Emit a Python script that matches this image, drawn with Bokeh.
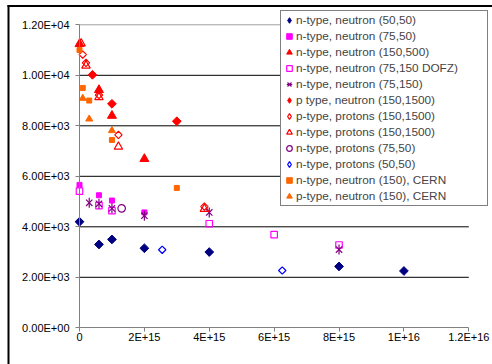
import numpy as np
from bokeh.plotting import figure
from bokeh.models import Range1d, FixedTicker, Legend, LegendItem
from bokeh.embed import file_html
from bokeh.resources import INLINE

# ---- axis ticks -------------------------------------------------------
x_ticks = [0.0, 2e15, 4e15, 6e15, 8e15, 1e16, 1.2e16]
x_tick_labels = ["0", "2E+15", "4E+15", "6E+15", "8E+15", "1E+16", "1.2E+16"]
y_ticks = [0, 2000, 4000, 6000, 8000, 10000, 12000]
y_tick_labels = ["0.00E+00", "2.00E+03", "4.00E+03", "6.00E+03",
                 "8.00E+03", "1.00E+04", "1.20E+04"]

# ---- series (fluence, value) -----------------------------------------
n_neu_50_50_x = [0.0, 6e14, 1e15, 2e15, 4e15, 8e15, 1e16]
n_neu_50_50_y = [4200, 3300, 3500, 3150, 3000, 2430, 2250]

n_neu_75_50_x = [0.0, 6e14, 1e15, 2e15]
n_neu_75_50_y = [5660, 5250, 5040, 4570]

n_neu_150_500_x = [0.0, 6e14, 1e15, 2e15]
n_neu_150_500_y = [11240, 9420, 8400, 6690]

n_neu_75_150_dofz_x = [0.0, 6e14, 1e15, 4e15, 6e15, 8e15]
n_neu_75_150_dofz_y = [5410, 4840, 4640, 4120, 3690, 3280]

n_neu_75_150_x = [3e14, 6e14, 1e15, 2e15, 4e15, 8e15]
n_neu_75_150_y = [4950, 4910, 4730, 4440, 4570, 3100]

p_neu_150_1500_x = [4e14, 1e15, 3e15]
p_neu_150_1500_y = [10020, 8870, 8180]

p_pro_150_1500_x = [1e14, 2e14, 6e14, 1.2e15, 3.85e15]
p_pro_150_1500_y = [10820, 10490, 9220, 7640, 4800]

n_pro_150_1500_x = [5e13, 2e14, 6e14, 1.2e15, 3.85e15]
n_pro_150_1500_y = [11260, 10380, 9130, 7170, 4710]

n_pro_75_50_x = [1.3e15]
n_pro_75_50_y = [4730]

n_pro_50_50_x = [2.55e15, 6.25e15]
n_pro_50_50_y = [3090, 2270]

n_neu_150_cern_x = [0.0, 1e14, 3e14, 1e15, 3e15]
n_neu_150_cern_y = [11000, 9500, 9000, 7440, 5540]

p_neu_150_cern_x = [1e14, 3e14, 1e15]
p_neu_150_cern_y = [9090, 8270, 7810]

# ---- layout (pixels) --------------------------------------------------
# The plot frame fills the whole canvas; the axes sit at x = 0 / y = 0.
W, H = 492, 364
X0_PX, XMAX_PX = 79.0, 468.3          # screen x of 0 and of the last x tick
Y0_PX, YMAX_PX = 327.3, 24.3          # screen y of 0 and of the last y tick
XMAX, YMAX = x_ticks[-1], y_ticks[-1]
kx = (XMAX_PX - X0_PX) / XMAX
ky = (Y0_PX - YMAX_PX) / YMAX
x_range = Range1d(-X0_PX / kx, (W - X0_PX) / kx)
y_range = Range1d(-(H - Y0_PX) / ky, Y0_PX / ky)


def px_to_x(px):
    return (px - X0_PX) / kx


def px_to_y(py):
    return (Y0_PX - py) / ky


FONT = "Liberation Sans"

p = figure(width=W, height=H, title=None, output_backend="svg", toolbar_location=None,
           x_range=x_range, y_range=y_range,
           min_border_left=0, min_border_right=0, min_border_top=0, min_border_bottom=0)
p.outline_line_color = None
p.background_fill_color = "white"
p.border_fill_color = "white"
p.xgrid.visible = False
p.ygrid.visible = False

# outer chart border: left and top edges
p.segment(x0=[px_to_x(8), px_to_x(7)], x1=[px_to_x(8), px_to_x(W + 6)],
          y0=[px_to_y(4.5), px_to_y(5.5)], y1=[px_to_y(H + 6), px_to_y(5.5)],
          line_color="black", line_width=2)

# horizontal gridlines (top one is the plot-area edge, lighter)
grid_y = y_ticks[1:]
grid_col = ["black"] * (len(grid_y) - 1) + ["#a0a0a0"]
p.segment(x0=[0.0] * len(grid_y), x1=[XMAX] * len(grid_y), y0=grid_y, y1=grid_y,
          line_color=grid_col, line_width=1)

for ax in (p.xaxis[0], p.yaxis[0]):
    ax.fixed_location = 0
    ax.axis_line_color = "#808080"
    ax.major_tick_line_color = "#808080"
    ax.major_tick_in = 0
    ax.major_tick_out = 4
    ax.minor_tick_line_color = None
    ax.major_label_text_font = FONT
    ax.major_label_text_font_size = "11px"
    ax.major_label_text_color = "black"

p.xaxis.ticker = FixedTicker(ticks=x_ticks)
p.xaxis.major_label_overrides = {float(t): s for t, s in zip(x_ticks, x_tick_labels)}
p.xaxis.bounds = (0, XMAX)
p.xaxis.major_label_standoff = -1

p.yaxis.ticker = FixedTicker(ticks=y_ticks)
p.yaxis.major_label_overrides = {t: s for t, s in zip(y_ticks, y_tick_labels)}
p.yaxis.bounds = (0, YMAX)
p.yaxis.major_label_standoff = 6

DIAMOND = dict(marker="square", angle=np.pi / 4)


def legend_diamond(x, y, **kw):
    # hidden stand-in so the legend shows a diamond symbol
    return p.scatter(x, y, marker="diamond", visible=False, **kw)


r1 = p.scatter(n_neu_50_50_x, n_neu_50_50_y, size=6.2, fill_color="#000080",
               line_color="#000080", **DIAMOND)
r1l = legend_diamond(n_neu_50_50_x, n_neu_50_50_y, fill_color="#000080", line_color="#000080")
r2 = p.scatter(n_neu_75_50_x, n_neu_75_50_y, marker="square", size=5,
               fill_color="#FF00FF", line_color="#FF00FF")
r3 = p.scatter(n_neu_150_500_x, n_neu_150_500_y, marker="triangle", size=9,
               fill_color="#FF0000", line_color="#FF0000")
r4 = p.scatter(n_neu_75_150_dofz_x, n_neu_75_150_dofz_y, marker="square", size=6.5,
               fill_color=None, line_color="#FF00FF", line_width=1.2)
r5a = p.scatter(n_neu_75_150_x, n_neu_75_150_y, marker="x", size=9,
                line_color="#800080", line_width=1.2)
r5b = p.scatter(n_neu_75_150_x, n_neu_75_150_y, marker="dash", angle=np.pi / 2, size=10,
                line_color="#800080", line_width=1.2)
r6 = p.scatter(p_neu_150_1500_x, p_neu_150_1500_y, size=6.2, fill_color="#FF0000",
               line_color="#FF0000", **DIAMOND)
r6l = legend_diamond(p_neu_150_1500_x, p_neu_150_1500_y, fill_color="#FF0000",
                     line_color="#FF0000")
r7 = p.scatter(p_pro_150_1500_x, p_pro_150_1500_y, size=5.2, fill_color=None,
               line_color="#FF0000", line_width=1.2, **DIAMOND)
r7l = legend_diamond(p_pro_150_1500_x, p_pro_150_1500_y, fill_color=None,
                     line_color="#FF0000", line_width=1.2)
r8 = p.scatter(n_pro_150_1500_x, n_pro_150_1500_y, marker="triangle", size=8.5,
               fill_color=None, line_color="#FF0000", line_width=1.2)
r9 = p.scatter(n_pro_75_50_x, n_pro_75_50_y, marker="circle", size=7.5,
               fill_color=None, line_color="#800080", line_width=1.2)
r10 = p.scatter(n_pro_50_50_x, n_pro_50_50_y, size=5.2, fill_color=None,
                line_color="#0000FF", line_width=1.2, **DIAMOND)
r10l = legend_diamond(n_pro_50_50_x, n_pro_50_50_y, fill_color=None,
                      line_color="#0000FF", line_width=1.2)
r11 = p.scatter(n_neu_150_cern_x, n_neu_150_cern_y, marker="square", size=5,
                fill_color="#FF6600", line_color="#FF6600")
r12 = p.scatter(p_neu_150_cern_x, p_neu_150_cern_y, marker="triangle", size=7,
                fill_color="#FF6600", line_color="#FF6600")

LEG_LEFT, LEG_BOTTOM = 280, 206
legend = Legend(items=[
    LegendItem(label="n-type, neutron (50,50)", renderers=[r1l]),
    LegendItem(label="n-type, neutron (75,50)", renderers=[r2]),
    LegendItem(label="n-type, neutron (150,500)", renderers=[r3]),
    LegendItem(label="n-type, neutron (75,150 DOFZ)", renderers=[r4]),
    LegendItem(label="n-type, neutron (75,150)", renderers=[r5a, r5b]),
    LegendItem(label="p type, neutron (150,1500)", renderers=[r6l]),
    LegendItem(label="p-type, protons (150,1500)", renderers=[r7l]),
    LegendItem(label="n-type, protons (150,1500)", renderers=[r8]),
    LegendItem(label="n-type, protons (75,50)", renderers=[r9]),
    LegendItem(label="n-type, protons (50,50)", renderers=[r10l]),
    LegendItem(label="n-type, neutron (150), CERN", renderers=[r11]),
    LegendItem(label="p-type, neutron (150), CERN", renderers=[r12]),
], location=(LEG_LEFT, H - LEG_BOTTOM))
legend.label_text_font = FONT
legend.label_text_font_size = "11.8px"
legend.label_height = 12
legend.label_width = 190
legend.glyph_width = 14
legend.glyph_height = 16
legend.label_standoff = -3
legend.padding = 1
legend.spacing = 0
legend.margin = 0
legend.border_line_color = "black"
legend.border_line_width = 1
legend.background_fill_color = "white"
legend.background_fill_alpha = 1.0
p.add_layout(legend)

open("out.html", "w").write(file_html(p, INLINE))
